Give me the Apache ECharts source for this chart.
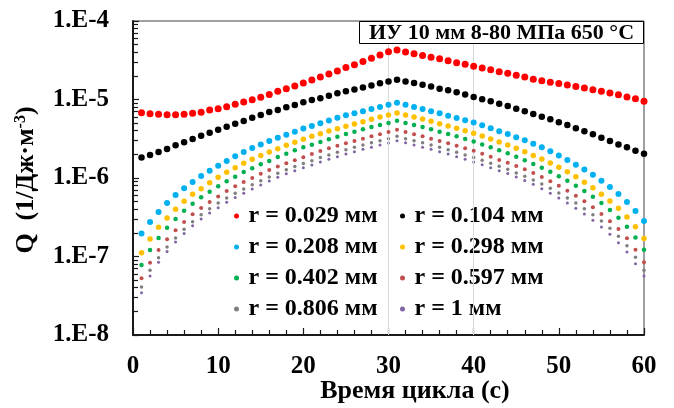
<!DOCTYPE html>
<html>
<head>
<meta charset="utf-8">
<script src="https://cdn.jsdelivr.net/npm/echarts@6/dist/echarts.min.js"></script>
<style>
html,body{margin:0;padding:0;background:#fff;}
#chart{width:674px;height:408px;}
</style>
</head>
<body>
<div id="chart"></div>
<script>
// Time of cycle (s)
const time = [1,2,3,4,5,6,7,8,9,10,11,12,13,14,15,16,17,18,19,20,21,22,23,24,25,26,27,28,29,30,
  31,32,33,34,35,36,37,38,39,40,41,42,43,44,45,46,47,48,49,50,51,52,53,54,55,56,57,58,59,60];

const seriesNames = ['r = 0.029 мм','r = 0.104 мм','r = 0.208 мм','r = 0.298 мм',
  'r = 0.402 мм','r = 0.597 мм','r = 0.806 мм','r = 1 мм'];

const q029 = [6.8e-6,6.6e-6,6.5e-6,6.4e-6,6.4e-6,6.5e-6,6.7e-6,6.9e-6,7.35e-6,7.6e-6,
  8.1e-6,8.7e-6,9.3e-6,9.9e-6,1.07e-5,1.16e-5,1.27e-5,1.37e-5,1.49e-5,1.62e-5,
  1.77e-5,1.93e-5,2.11e-5,2.31e-5,2.55e-5,2.78e-5,3.05e-5,3.35e-5,3.69e-5,4.07e-5,
  4.27e-5,4.03e-5,3.83e-5,3.64e-5,3.46e-5,3.30e-5,3.12e-5,2.94e-5,2.81e-5,2.65e-5,
  2.52e-5,2.40e-5,2.26e-5,2.16e-5,2.03e-5,1.93e-5,1.81e-5,1.73e-5,1.66e-5,1.60e-5,
  1.53e-5,1.46e-5,1.40e-5,1.33e-5,1.27e-5,1.21e-5,1.15e-5,1.08e-5,1.02e-5,9.5e-6];

const q104 = [1.82e-6,1.96e-6,2.14e-6,2.34e-6,2.61e-6,2.85e-6,3.14e-6,3.46e-6,3.78e-6,4.12e-6,
  4.50e-6,4.92e-6,5.32e-6,5.86e-6,6.35e-6,6.93e-6,7.35e-6,7.95e-6,8.5e-6,9.2e-6,
  9.85e-6,1.04e-5,1.12e-5,1.20e-5,1.27e-5,1.34e-5,1.42e-5,1.51e-5,1.61e-5,1.70e-5,
  1.79e-5,1.70e-5,1.62e-5,1.54e-5,1.46e-5,1.37e-5,1.31e-5,1.24e-5,1.16e-5,1.08e-5,
  1.01e-5,9.5e-6,8.84e-6,8.26e-6,7.64e-6,7.07e-6,6.53e-6,6.04e-6,5.60e-6,5.12e-6,
  4.73e-6,4.30e-6,3.94e-6,3.60e-6,3.26e-6,2.96e-6,2.68e-6,2.46e-6,2.22e-6,2.04e-6];

const q208 = [1.97e-7,2.75e-7,3.69e-7,4.80e-7,6.07e-7,7.41e-7,8.89e-7,1.06e-6,1.24e-6,1.43e-6,
  1.65e-6,1.89e-6,2.14e-6,2.41e-6,2.68e-6,2.96e-6,3.26e-6,3.56e-6,3.89e-6,4.27e-6,
  4.59e-6,4.99e-6,5.40e-6,5.85e-6,6.29e-6,6.69e-6,7.09e-6,7.57e-6,8.02e-6,8.56e-6,
  9.1e-6,8.56e-6,8.02e-6,7.57e-6,7.09e-6,6.67e-6,6.21e-6,5.81e-6,5.45e-6,5.10e-6,
  4.69e-6,4.30e-6,3.94e-6,3.64e-6,3.30e-6,3.02e-6,2.73e-6,2.46e-6,2.19e-6,1.94e-6,
  1.69e-6,1.48e-6,1.28e-6,1.10e-6,9.24e-7,7.68e-7,6.25e-7,4.95e-7,3.80e-7,2.83e-7];

const q298 = [1.12e-7,1.67e-7,2.35e-7,3.09e-7,3.99e-7,5.05e-7,6.20e-7,7.31e-7,8.71e-7,1.02e-6,
  1.18e-6,1.35e-6,1.54e-6,1.73e-6,1.93e-6,2.14e-6,2.36e-6,2.61e-6,2.85e-6,3.12e-6,
  3.40e-6,3.67e-6,3.97e-6,4.24e-6,4.55e-6,4.88e-6,5.22e-6,5.60e-6,5.98e-6,6.35e-6,
  6.73e-6,6.35e-6,5.98e-6,5.64e-6,5.28e-6,4.92e-6,4.59e-6,4.30e-6,4.01e-6,3.71e-6,
  3.43e-6,3.14e-6,2.87e-6,2.63e-6,2.39e-6,2.16e-6,1.94e-6,1.75e-6,1.55e-6,1.37e-6,
  1.20e-6,1.04e-6,8.84e-7,7.52e-7,6.20e-7,5.10e-7,4.11e-7,3.18e-7,2.40e-7,1.70e-7];

const q402 = [7.8e-8,1.21e-7,1.72e-7,2.33e-7,3.00e-7,3.83e-7,4.70e-7,5.68e-7,6.69e-7,7.86e-7,
  9.1e-7,1.04e-6,1.19e-6,1.33e-6,1.50e-6,1.65e-6,1.85e-6,2.04e-6,2.25e-6,2.46e-6,
  2.66e-6,2.87e-6,3.11e-6,3.36e-6,3.64e-6,3.89e-6,4.17e-6,4.46e-6,4.73e-6,5.02e-6,
  5.37e-6,5.02e-6,4.73e-6,4.46e-6,4.17e-6,3.89e-6,3.64e-6,3.40e-6,3.14e-6,2.92e-6,
  2.68e-6,2.46e-6,2.25e-6,2.06e-6,1.87e-6,1.68e-6,1.51e-6,1.35e-6,1.20e-6,1.05e-6,
  9.24e-7,7.98e-7,6.83e-7,5.78e-7,4.80e-7,3.91e-7,3.12e-7,2.40e-7,1.74e-7,1.22e-7];

const q597 = [5.28e-8,8.34e-8,1.21e-7,1.66e-7,2.16e-7,2.75e-7,3.45e-7,4.15e-7,4.95e-7,5.81e-7,
  6.83e-7,7.84e-7,8.89e-7,1.00e-6,1.13e-6,1.26e-6,1.40e-6,1.54e-6,1.68e-6,1.84e-6,
  2.02e-6,2.21e-6,2.39e-6,2.58e-6,2.77e-6,2.96e-6,3.16e-6,3.40e-6,3.60e-6,3.86e-6,
  4.12e-6,3.86e-6,3.60e-6,3.40e-6,3.16e-6,2.96e-6,2.77e-6,2.58e-6,2.39e-6,2.22e-6,
  2.04e-6,1.87e-6,1.70e-6,1.56e-6,1.42e-6,1.29e-6,1.16e-6,1.03e-6,9.08e-7,7.98e-7,
  6.89e-7,5.95e-7,5.05e-7,4.23e-7,3.48e-7,2.81e-7,2.24e-7,1.71e-7,1.22e-7,8.44e-8];

const q806 = [4.09e-8,6.67e-8,9.65e-8,1.32e-7,1.72e-7,2.22e-7,2.78e-7,3.40e-7,4.07e-7,4.80e-7,
  5.56e-7,6.38e-7,7.24e-7,8.22e-7,9.24e-7,1.03e-6,1.15e-6,1.27e-6,1.40e-6,1.53e-6,
  1.66e-6,1.82e-6,1.96e-6,2.13e-6,2.29e-6,2.46e-6,2.63e-6,2.82e-6,2.99e-6,3.16e-6,
  3.40e-6,3.16e-6,2.99e-6,2.82e-6,2.63e-6,2.46e-6,2.29e-6,2.13e-6,1.96e-6,1.82e-6,
  1.68e-6,1.54e-6,1.41e-6,1.29e-6,1.16e-6,1.05e-6,9.43e-7,8.39e-7,7.41e-7,6.44e-7,
  5.56e-7,4.80e-7,4.07e-7,3.40e-7,2.83e-7,2.29e-7,1.81e-7,1.37e-7,9.77e-8,6.67e-8];

const q1000 = [3.46e-8,5.64e-8,8.44e-8,1.16e-7,1.53e-7,1.97e-7,2.47e-7,3.00e-7,3.58e-7,4.19e-7,
  4.90e-7,5.64e-7,6.40e-7,7.24e-7,8.14e-7,9.16e-7,1.02e-6,1.13e-6,1.24e-6,1.35e-6,
  1.46e-6,1.60e-6,1.73e-6,1.87e-6,2.02e-6,2.16e-6,2.32e-6,2.46e-6,2.63e-6,2.79e-6,
  2.99e-6,2.82e-6,2.63e-6,2.46e-6,2.32e-6,2.16e-6,2.02e-6,1.87e-6,1.73e-6,1.60e-6,
  1.48e-6,1.35e-6,1.24e-6,1.14e-6,1.03e-6,9.29e-7,8.31e-7,7.31e-7,6.38e-7,5.56e-7,
  4.80e-7,4.11e-7,3.48e-7,2.89e-7,2.38e-7,1.92e-7,1.50e-7,1.14e-7,8.09e-8,5.64e-8];

const allValues = [q029,q104,q208,q298,q402,q597,q806,q1000];
const colors = ['#FF0000','#000000','#00B0F0','#FFC000','#00B050','#C0504D','#7F7F7F','#8064A2'];
const sizes = [7,6.5,6,5.5,4.5,4,3.5,3];

const yMajor = [1e-8,1e-7,1e-6,1e-5,1e-4];
const yMinor = [];
for (let d = 0; d < yMajor.length - 1; d++) {
  for (let m = 2; m <= 9; m++) yMinor.push(+(m * yMajor[d]).toPrecision(3));
}
const gridX = [30, 40];
const gridY = [1e-5];

const FONT = "'Liberation Serif','Times New Roman',serif";
const AX = '#1a1a1a';

const chart = echarts.init(document.getElementById('chart'), null, {renderer: 'canvas'});

const series = [{
  type: 'scatter', name: '_grid', data: [], z: 1, silent: true,
  markLine: {
    silent: true, symbol: 'none', animation: false,
    label: {show: false},
    lineStyle: {color: '#d9d9d9', width: 1, type: 'solid'},
    data: gridX.map(v => ({xAxis: v})).concat(gridY.map(v => ({yAxis: v})))
  }
}];
seriesNames.forEach((n, i) => {
  series.push({
    type: 'scatter', name: n, z: 2 + (8 - i),
    symbol: 'circle', symbolSize: sizes[i],
    itemStyle: {color: colors[i], opacity: 1},
    data: time.map((t, k) => [t, allValues[i][k]])
  });
});

const legendText = {fontFamily: FONT, fontSize: 24, fontWeight: 'bold', color: '#000'};

const option = {
  animation: false,
  backgroundColor: '#fff',
  grid: {left: 133, top: 21, width: 511, height: 314, show: true, borderColor: '#404040', borderWidth: 1, backgroundColor: 'transparent'},
  xAxis: {
    type: 'value', min: 0, max: 60, interval: 10,
    axisLine: {show: true, lineStyle: {color: AX, width: 2}},
    axisTick: {show: true, inside: true, length: 7, lineStyle: {color: AX, width: 1.2}},
    minorTick: {show: true, splitNumber: 5, length: 5, lineStyle: {color: AX, width: 1.2}},
    splitLine: {show: false},
    axisLabel: {margin: 19, fontFamily: FONT, fontSize: 25, fontWeight: 'bold', color: '#000'}
  },
  yAxis: [{
    type: 'log', logBase: 10, min: 1e-8, max: 1e-4,
    axisLine: {show: true, lineStyle: {color: AX, width: 2}},
    axisTick: {show: true, inside: true, length: 6, lineStyle: {color: AX, width: 1.2}},
    splitLine: {show: false},
    axisLabel: {
      margin: 24, fontFamily: FONT, fontSize: 25, fontWeight: 'bold', color: '#000',
      formatter: v => '1.E' + Math.round(Math.log10(v))
    }
  }, {
    type: 'log', logBase: 10, min: 1e-8, max: 1e-4, position: 'left',
    axisLine: {show: false},
    axisTick: {show: true, inside: true, length: 5, lineStyle: {color: AX, width: 1.2}, customValues: yMinor},
    axisLabel: {show: false},
    splitLine: {show: false}
  }],
  legend: [{
    orient: 'vertical', left: 234, top: 204, padding: 0, itemGap: 7,
    itemWidth: 14, itemHeight: 5, icon: 'circle',
    data: [seriesNames[0], seriesNames[2], seriesNames[4], seriesNames[6]],
    textStyle: legendText, selectedMode: false
  }, {
    orient: 'vertical', left: 400, top: 204, padding: 0, itemGap: 7,
    itemWidth: 14, itemHeight: 5, icon: 'circle',
    data: [seriesNames[1], seriesNames[3], seriesNames[5], seriesNames[7]],
    textStyle: legendText, selectedMode: false
  }],
  graphic: [{
    type: 'rect', z: 100, zlevel: 1, shape: {x: 359.5, y: 21.5, width: 284, height: 22},
    style: {fill: '#fff', stroke: '#000', lineWidth: 1}
  }, {
    type: 'text', z: 101, zlevel: 1, x: 501.5, y: 33,
    style: {text: 'ИУ 10 мм 8-80 МПа 650 °С', fontFamily: FONT, fontSize: 22, fontWeight: 'bold', fill: '#000', align: 'center', verticalAlign: 'middle'}
  }, {
    type: 'text', x: 415, y: 391, z: 100,
    style: {text: 'Время цикла (с)', fontFamily: FONT, fontSize: 26, fontWeight: 'bold', fill: '#000', align: 'center', verticalAlign: 'middle'}
  }, {
    type: 'text', x: 26, y: 180, rotation: Math.PI / 2, z: 100,
    style: {
      text: '{b|Q  (1/Дж·м}{s|-3}{b|)}',
      align: 'center', verticalAlign: 'middle',
      rich: {
        b: {fontFamily: FONT, fontSize: 26, fontWeight: 'bold', fill: '#000', color: '#000'},
        s: {fontFamily: FONT, fontSize: 16, fontWeight: 'bold', fill: '#000', color: '#000', verticalAlign: 'top'}
      }
    }
  }],
  series: series
};
chart.setOption(option);
</script>
</body>
</html>
